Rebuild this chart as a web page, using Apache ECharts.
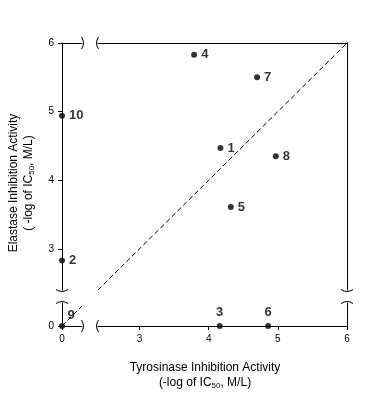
<!DOCTYPE html>
<html>
<head>
<meta charset="utf-8">
<script src="https://cdn.jsdelivr.net/npm/echarts@6/dist/echarts.min.js"></script>
<style>html,body{margin:0;padding:0;background:#fff}#c{width:368px;height:395px}</style>
</head>
<body>
<div id="c"></div>
<script>
// ---- data ----
const compounds  = ['1', '2', '3', '4', '5', '6', '7', '8', '9', '10'];
const tyrosinase = [4.17, 0, 4.16, 3.79, 4.32, 4.86, 4.70, 4.97, 0, 0];
const elastase   = [4.47, 2.83, 0, 5.83, 3.61, 0, 5.50, 4.35, 0, 4.94];
const mainTicks  = [3, 4, 5, 6];
const zeroTicks  = [0];
const identityMain = [2.4, 6];
const identityZero = [0, 0.29];

// ---- layout ----
const G = {
  main:   {left: 98, top: 43, width: 249, height: 247},
  left:   {left: 62, top: 43, width: 20,  height: 247},
  bottom: {left: 98, top: 303, width: 249, height: 23},
  corner: {left: 62, top: 303, width: 20,  height: 23}
};
const mainRange = [2.4, 6];
const stripX = [0, 0.29];
const stripY = [0, 0.335];

const black = '#000';
function lineAxis(extra) {
  return Object.assign({
    type: 'value',
    axisLine: {show: true, onZero: false, lineStyle: {color: black, width: 1}},
    axisTick: {show: false},
    axisLabel: {show: false},
    splitLine: {show: false}
  }, extra);
}
function tickAxis(extra, ticks) {
  return Object.assign(lineAxis({}), {
    axisTick: {show: true, customValues: ticks, length: 4, inside: false, lineStyle: {color: black, width: 1}},
    axisLabel: {show: true, customValues: ticks, color: black, fontSize: 10, fontFamily: 'Liberation Sans, Arial', margin: 8, showMinLabel: true, showMaxLabel: true}
  }, extra);
}

const xAxes = [
  lineAxis({gridIndex: 0, position: 'top', min: mainRange[0], max: mainRange[1]}),
  lineAxis({gridIndex: 1, position: 'top', min: stripX[0], max: stripX[1]}),
  tickAxis({gridIndex: 2, position: 'bottom', min: mainRange[0], max: mainRange[1]}, mainTicks),
  tickAxis({gridIndex: 3, position: 'bottom', min: stripX[0], max: stripX[1]}, zeroTicks)
];
const yAxes = [
  lineAxis({gridIndex: 0, position: 'right', min: mainRange[0], max: mainRange[1]}),
  tickAxis({gridIndex: 1, position: 'left', min: mainRange[0], max: mainRange[1]}, mainTicks),
  lineAxis({gridIndex: 2, position: 'right', min: stripY[0], max: stripY[1]}),
  tickAxis({gridIndex: 3, position: 'left', min: stripY[0], max: stripY[1]}, zeroTicks)
];

// split points into panels
const panels = [[], [], [], []];
compounds.forEach((name, i) => {
  const x = tyrosinase[i], y = elastase[i];
  const lowX = x < 1, lowY = y < 1;
  const idx = !lowX && !lowY ? 0 : (lowX && !lowY ? 1 : (!lowX && lowY ? 2 : 3));
  const item = {value: [x, y], name: name};
  if (idx === 2) item.label = {position: 'top', distance: 4};
  if (idx === 3) item.label = {position: 'top', distance: 1, offset: [9, 0]};
  panels[idx].push(item);
});

const labelStyle = {
  show: true, position: 'right', distance: 4,
  formatter: p => p.name,
  color: black, fontSize: 13, fontWeight: 'bold',
  fontFamily: "'Liberation Sans', Arial, sans-serif"
};

const series = panels.map((data, k) => ({
  type: 'scatter', xAxisIndex: k, yAxisIndex: k, data: data,
  symbol: 'circle', symbolSize: 6, clip: false,
  itemStyle: {color: black},
  label: labelStyle, z: 5
}));
const dash = {color: black, width: 1, type: [5, 3]};
series.push({type: 'line', xAxisIndex: 0, yAxisIndex: 0, symbol: 'none', silent: true,
  data: [[identityMain[0], identityMain[0]], [identityMain[1], identityMain[1]]], lineStyle: dash});
series.push({type: 'line', xAxisIndex: 3, yAxisIndex: 3, symbol: 'none', silent: true,
  data: [[identityZero[0], identityZero[0]], [identityZero[1], identityZero[1]]], lineStyle: dash});

// break marks (decoration)
const brk = [];
const st = {stroke: black, lineWidth: 1, fill: null};
function vMark(x, y, dir) { // small vertical bracket on a horizontal line
  brk.push({type: 'bezierCurve', shape: {x1: x - dir * 0.5, y1: y - 6, x2: x - dir * 0.5, y2: y + 6, cpx1: x + dir * 3.5, cpy1: y}, style: st, silent: true});
}
function hMark(x, y, dir) { // small horizontal bracket on a vertical line
  brk.push({type: 'bezierCurve', shape: {x1: x - 6, y1: y - dir * 0.5, x2: x + 6, y2: y - dir * 0.5, cpx1: x, cpy1: y + dir * 3.5}, style: st, silent: true});
}
const xBreakL = G.left.left + G.left.width, xBreakR = G.main.left;
const yBreakT = G.main.top + G.main.height, yBreakB = G.bottom.top;
const topY = G.main.top, botY = G.bottom.top + G.bottom.height;
const leftX = G.left.left, rightX = G.main.left + G.main.width;
[topY, botY].forEach(y => { vMark(xBreakL, y, 1); vMark(xBreakR, y, -1); });
[leftX, rightX].forEach(x => { hMark(x, yBreakT, 1); hMark(x, yBreakB, -1); });

const titleRich = {
  n: {fontSize: 12, fontFamily: 'Liberation Sans, Arial', color: black, lineHeight: 15},
  s: {fontSize: 8, fontFamily: 'Liberation Sans, Arial', color: black, lineHeight: 15, padding: [6, 0, 0, 0]}
};
brk.push({type: 'text', x: 205, y: 375, silent: true,
  style: {text: '{n|Tyrosinase Inhibition Activity}\n{n|(-log of IC}{s|50}{n|, M/L)}', rich: titleRich, align: 'center', verticalAlign: 'middle'}});
brk.push({type: 'text', x: 21, y: 183, rotation: Math.PI / 2, silent: true,
  style: {text: '{n|Elastase Inhibition Activity}\n{n|( -log of IC}{s|50}{n|, M/L)}', rich: titleRich, align: 'center', verticalAlign: 'middle'}});

const chart = echarts.init(document.getElementById('c'), null, {renderer: 'canvas'});
chart.setOption({
  animation: false,
  backgroundColor: '#fff',
  grid: [G.main, G.left, G.bottom, G.corner].map(g => Object.assign({containLabel: false}, g)),
  xAxis: xAxes,
  yAxis: yAxes,
  series: series,
  graphic: brk
});
</script>
</body>
</html>
